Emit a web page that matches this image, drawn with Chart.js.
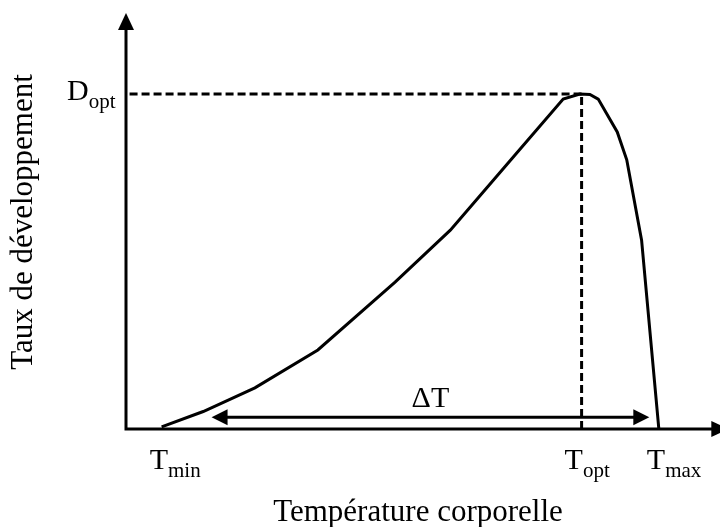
<!DOCTYPE html>
<html lang="fr">
<head>
<meta charset="utf-8">
<title>Taux de développement</title>
<script src="https://cdn.jsdelivr.net/npm/chart.js@4/dist/chart.umd.min.js"></script>
<style>
	html, body { margin: 0; padding: 0; background: #ffffff; }
	.chart-wrap { position: relative; width: 720px; height: 527px; }
</style>
</head>
<body>
<div class="chart-wrap"><canvas id="devChart"></canvas></div>
<script>
// courbe (temperature -> taux)
const curveX = [ 6.0, 13.0, 21.7, 32.3, 45.3, 54.6, 65.2, 73.6, 76.4, 78.1, 79.5, 82.7, 84.3, 86.8, 89.7 ];
const curveY = [ 0.5, 4.2, 9.9, 19.0, 35.3, 47.8, 65.4, 79.3, 80.5, 80.4, 79.3, 71.4, 64.7, 45.4, 0.1 ];

// points remarquables
const tMin = 6.0;
const tOpt = 76.7;
const tMax = 89.7;
const dOpt = 80.5;
const deltaRange = [ 14.4, 88.1 ];
const deltaLevel = 2.8;

// textes
const tickLabels = [ [ 'T', 'min' ], [ 'T', 'opt' ], [ 'T', 'max' ] ];
const yTickLabel = [ 'D', 'opt' ];
const deltaLabel = 'ΔT';
const xTitle = 'Température corporelle';
const yTitle = 'Taux de développement';

;(function () {
	'use strict';
	const serif = '"Liberation Serif", "Times New Roman", serif';
	const ink = '#000000';

	const drawArrowHead = function (ctx, tipX, tipY, dir, len, half) {
		ctx.save();
		ctx.translate(tipX, tipY);
		ctx.rotate(dir);
		ctx.beginPath();
		ctx.moveTo(0, 0);
		ctx.lineTo(-len, -half);
		ctx.lineTo(-len, half);
		ctx.closePath();
		ctx.fillStyle = ink;
		ctx.fill();
		ctx.restore();
	}

	const drawSubLabel = function (ctx, parts, left, baseline) {
		ctx.font = '30px ' + serif;
		ctx.fillText(parts[0], left, baseline);
		const w = ctx.measureText(parts[0]).width;
		ctx.font = '21px ' + serif;
		ctx.fillText(parts[1], left + w, baseline + 8);
	}

	const axesPlugin = {
		id: 'axesPlugin',
		beforeDatasetsDraw: function (chart) {
			const ctx = chart.ctx;
			const xs = chart.scales.x;
			const ys = chart.scales.y;
			const x0 = xs.getPixelForValue(0);
			const y0 = ys.getPixelForValue(0);

			ctx.save();
			ctx.strokeStyle = ink;
			ctx.lineWidth = 3;
			ctx.lineCap = 'butt';
			ctx.beginPath();
			ctx.moveTo(x0, ys.getPixelForValue(96));
			ctx.lineTo(x0, y0);
			ctx.lineTo(xs.getPixelForValue(99), y0);
			ctx.stroke();
			drawArrowHead(ctx, x0, ys.getPixelForValue(100), -Math.PI / 2, 17, 8);
			drawArrowHead(ctx, xs.getPixelForValue(101.4), y0, 0, 17, 8);

			// double fleche delta T
			const ay = ys.getPixelForValue(deltaLevel);
			const ax1 = xs.getPixelForValue(deltaRange[0]);
			const ax2 = xs.getPixelForValue(deltaRange[1]);
			ctx.beginPath();
			ctx.moveTo(ax1 + 10, ay);
			ctx.lineTo(ax2 - 10, ay);
			ctx.stroke();
			drawArrowHead(ctx, ax1, ay, Math.PI, 16, 8);
			drawArrowHead(ctx, ax2, ay, 0, 16, 8);
			ctx.restore();
		},
		afterDraw: function (chart) {
			const ctx = chart.ctx;
			const xs = chart.scales.x;
			const ys = chart.scales.y;
			const y0 = ys.getPixelForValue(0);

			ctx.save();
			ctx.fillStyle = ink;
			ctx.textBaseline = 'alphabetic';
			ctx.textAlign = 'left';

			const ticks = [ tMin, tOpt, tMax ];
			ticks.forEach(function (t, idx) {
				const left = xs.getPixelForValue(t) - (idx === 1 ? 17 : 12);
				drawSubLabel(ctx, tickLabels[idx], left, y0 + 40);
			});

			drawSubLabel(ctx, yTickLabel, 67, ys.getPixelForValue(dOpt) + 6);

			ctx.font = '30px ' + serif;
			ctx.textAlign = 'center';
			ctx.fillText(deltaLabel, (xs.getPixelForValue(deltaRange[0]) + xs.getPixelForValue(deltaRange[1])) / 2, ys.getPixelForValue(deltaLevel) - 10);

			ctx.font = '31px ' + serif;
			ctx.fillText(xTitle, 418, 521);

			ctx.translate(32, 222);
			ctx.rotate(-Math.PI / 2);
			ctx.fillText(yTitle, 0, 0);
			ctx.restore();
		}
	};

	const handleInitialChart = function () {
		const canvas = document.getElementById('devChart');
		const points = curveX.map(function (x, idx) {
			return { x: x, y: curveY[idx] };
		});

		new Chart(canvas.getContext('2d'), {
			type: 'scatter',
			data: {
				datasets: [
					{
						label: 'Taux',
						data: points,
						showLine: true,
						borderColor: ink,
						borderWidth: 3,
						pointRadius: 0,
						tension: 0
					},
					{
						label: 'Topt',
						data: [ { x: tOpt, y: 0 }, { x: tOpt, y: dOpt } ],
						showLine: true,
						borderColor: ink,
						borderWidth: 3,
						borderDash: [ 8, 4 ],
						pointRadius: 0
					},
					{
						label: 'Dopt',
						data: [ { x: 0.6, y: dOpt }, { x: tOpt, y: dOpt } ],
						showLine: true,
						borderColor: ink,
						borderWidth: 3,
						borderDash: [ 8, 4 ],
						pointRadius: 0
					}
				]
			},
			options: {
				responsive: true,
				maintainAspectRatio: false,
				animation: false,
				layout: {
					padding: { left: 126, right: 0, top: 13, bottom: 98 }
				},
				plugins: {
					legend: { display: false },
					tooltip: { enabled: false }
				},
				scales: {
					x: { type: 'linear', min: 0, max: 100, display: false },
					y: { type: 'linear', min: 0, max: 100, display: false }
				}
			},
			plugins: [ axesPlugin ]
		});
	}

	handleInitialChart();
})();
</script>
</body>
</html>
